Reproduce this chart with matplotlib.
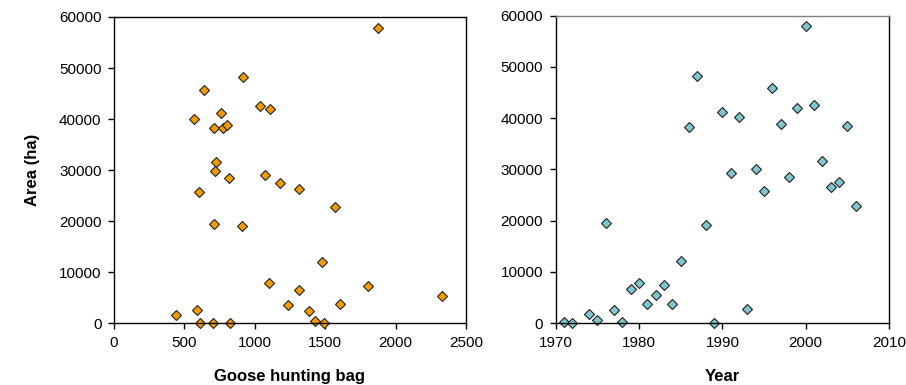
import matplotlib.pyplot as plt

plt.rcParams['font.family'] = ['Liberation Sans', 'DejaVu Sans']

# left panel: goose hunting bag vs area
bag = [918, 641, 570, 758, 708, 777, 803, 1035, 1108, 727, 720, 819, 1070, 1179,
       1312, 601, 1877, 708, 911, 1477, 1103, 1312, 443, 589, 1233, 1387, 613,
       703, 824, 1428, 1494, 1572, 1804, 2327, 1607]
area_bag = [48300, 45700, 40100, 41100, 38300, 38200, 38900, 42500, 41900, 31500,
            29800, 28400, 29100, 27500, 26400, 25700, 57900, 19500, 19000, 12000,
            7800, 6600, 1600, 2700, 3600, 2400, 100, 0, 0, 400, 100, 22700, 7400,
            5400, 3700]

# right panel: year vs area
year = [1971, 1972, 1974, 1975, 1976, 1977, 1978, 1979, 1980, 1981, 1982, 1983,
        1984, 1985, 1986, 1987, 1988, 1989, 1990, 1991, 1992, 1993, 1994, 1995,
        1996, 1997, 1998, 1999, 2000, 2001, 2002, 2003, 2004, 2005, 2006]
area_year = [250, 0, 1700, 500, 19500, 2500, 250, 6700, 7900, 3700, 5500, 7500,
             3700, 12100, 38300, 48300, 19200, 0, 41200, 29200, 40200, 2700, 30000,
             25800, 45800, 38900, 28600, 42000, 58000, 42600, 31600, 26500, 27600,
             38400, 22800]

fig = plt.figure(figsize=(9.06, 3.85), dpi=100)
ax1 = fig.add_axes([0.1258, 0.1603, 0.3885, 0.7956])
ax2 = fig.add_axes([0.6134, 0.1610, 0.3679, 0.7980])

ax1.plot(bag, area_bag, 'D', ms=5.2, mfc='#F39C00', mec='#222222', mew=0.8, ls='none')
ax2.plot(year, area_year, 'D', ms=5.2, mfc='#7FC6CF', mec='#222222', mew=0.8, ls='none')

ax1.set_xlim(0, 2500)
ax1.set_xticks([0, 500, 1000, 1500, 2000, 2500])
ax2.set_xlim(1970, 2010)
ax2.set_xticks([1970, 1980, 1990, 2000, 2010])

for ax in (ax1, ax2):
    ax.set_ylim(0, 60000)
    ax.set_yticks(range(0, 60001, 10000))
    ax.tick_params(direction='out', length=4, width=1, labelsize=11, pad=5)
    for s in ax.spines.values():
        s.set_linewidth(1)
        s.set_clip_on(False)
    for m in ax.get_lines():
        m.set_clip_on(False)

ax2.spines['top'].set_color('#808080')

ax1.set_xlabel('Goose hunting bag', fontsize=12, fontweight='bold', labelpad=14)
ax2.set_xlabel('Year', fontsize=12, fontweight='bold', labelpad=14)
ax1.set_ylabel('Area (ha)', fontsize=12, fontweight='bold', labelpad=14)

fig.savefig('out.png', dpi=100)
